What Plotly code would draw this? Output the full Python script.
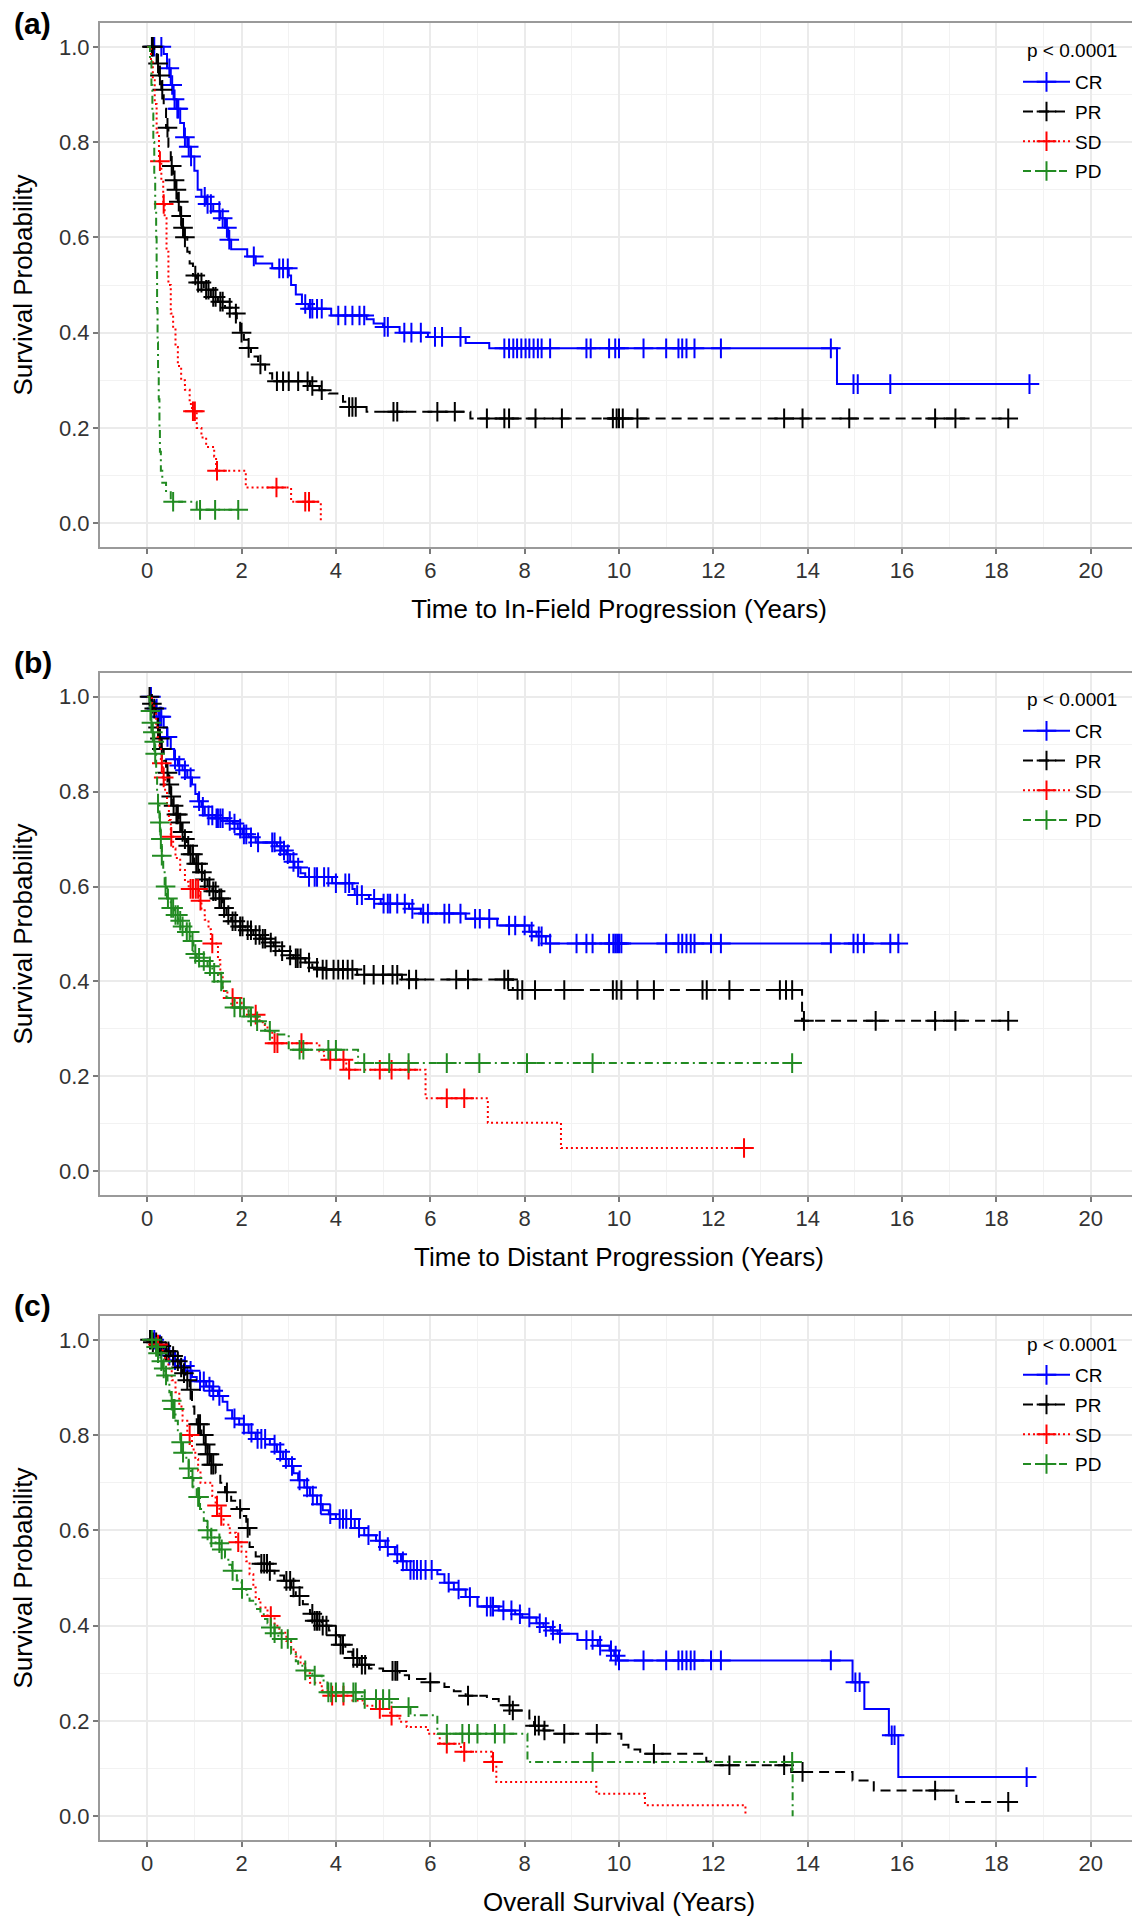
import plotly.graph_objects as go
from plotly.subplots import make_subplots

# ---------------- DATA ----------------
groups = ["CR", "PR", "SD", "PD"]
colors = {"CR": "#0000FF", "PR": "#000000", "SD": "#FF0000", "PD": "#228B22"}
dashes = {"CR": "solid", "PR": "10px,6px", "SD": "2px,3px", "PD": "8px,4px,2px,4px"}
panel_labels = ["(a)", "(b)", "(c)"]
x_titles = ["Time to In-Field Progression (Years)",
            "Time to Distant Progression (Years)",
            "Overall Survival (Years)"]
p_text = "p < 0.0001"
y_title = "Survival Probability"
x_ticks = [0, 2, 4, 6, 8, 10, 12, 14, 16, 18, 20]
y_ticks = [0.0, 0.2, 0.4, 0.6, 0.8, 1.0]

# ---- Panel (a): In-field progression ----
cr_a_t = [0, 0.35, 0.42, 0.5, 0.56, 0.62, 0.7, 0.78, 0.85, 0.92, 1.0, 1.07, 1.15, 1.25, 1.4, 1.55, 1.65, 1.72, 1.78,
          2.12, 2.3, 2.65, 3.0, 3.05, 3.15, 3.28, 3.42, 3.9, 4.65, 4.8, 5.0, 5.35, 5.95, 6.75, 7.25, 14.62]
cr_a_s = [1.0, 0.985, 0.955, 0.92, 0.89, 0.87, 0.84, 0.81, 0.79, 0.77, 0.74, 0.70, 0.685, 0.67, 0.655, 0.64, 0.62, 0.595, 0.575,
          0.56, 0.545, 0.535, 0.52, 0.50, 0.48, 0.46, 0.45, 0.436, 0.428, 0.419, 0.412, 0.40, 0.391, 0.378, 0.367, 0.292]
cr_a_c = [0.15, 0.3, 0.47, 0.53, 0.58, 0.64, 0.66, 0.8, 0.88, 0.93, 1.22, 1.28, 1.35, 1.53, 1.6, 1.69, 1.74, 2.26, 2.8, 2.88,
          2.98, 3.35, 3.45, 3.5, 3.6, 3.7, 4.05, 4.2, 4.35, 4.5, 4.6, 5.03, 5.1, 5.45, 5.6, 5.8, 6.1, 6.25, 6.64, 7.57, 7.67,
          7.76, 7.84, 7.93, 8.02, 8.1, 8.19, 8.28, 8.36, 8.54, 9.31, 9.4, 9.79, 9.92, 10.0, 10.52, 11.0, 11.26, 11.34, 11.43,
          11.6, 12.16, 14.49, 14.97, 15.06, 15.75, 18.7]

pr_a_t = [0, 0.15, 0.2, 0.25, 0.3, 0.35, 0.4, 0.45, 0.5, 0.55, 0.6, 0.65, 0.7, 0.73, 0.78, 0.85, 0.9, 0.97, 1.05, 1.2,
          1.35, 1.5, 1.65, 1.8, 1.9, 1.97, 2.05, 2.12, 2.2, 2.35, 2.5, 2.65, 3.45, 3.65, 3.85, 4.15, 4.22, 4.65, 6.85]
pr_a_s = [1.0, 0.985, 0.965, 0.94, 0.91, 0.87, 0.83, 0.79, 0.75, 0.72, 0.70, 0.675, 0.645, 0.62, 0.60, 0.57, 0.545, 0.52, 0.505, 0.49,
          0.475, 0.465, 0.452, 0.44, 0.425, 0.40, 0.385, 0.368, 0.35, 0.333, 0.315, 0.298, 0.288, 0.279, 0.272, 0.255, 0.244, 0.234, 0.22]
pr_a_c = [0.1, 0.12, 0.23, 0.27, 0.32, 0.43, 0.52, 0.58, 0.62, 0.67, 0.72, 0.76, 0.8, 1.02, 1.08, 1.15, 1.25, 1.3, 1.4, 1.45,
          1.55, 1.6, 1.75, 1.88, 2.0, 2.15, 2.4, 2.75, 2.88, 3.0, 3.2, 3.4, 3.5, 3.7, 4.28, 4.35, 4.42, 5.22, 5.3, 6.15, 6.52,
          7.2, 7.57, 7.67, 8.23, 8.79, 9.87, 9.95, 10.0, 10.08, 10.39, 13.5, 13.89, 14.88, 16.7, 17.13, 18.25]

sd_a_t = [0, 0.08, 0.12, 0.16, 0.2, 0.25, 0.3, 0.34, 0.37, 0.41, 0.45, 0.5, 0.55, 0.6, 0.65, 0.72, 0.8, 0.9, 0.95, 1.05,
          1.15, 1.25, 1.42, 1.46, 2.09, 3.05, 3.68]
sd_a_s = [1.0, 0.97, 0.93, 0.88, 0.82, 0.76, 0.72, 0.67, 0.64, 0.57, 0.50, 0.44, 0.41, 0.37, 0.33, 0.30, 0.28, 0.25, 0.235, 0.20,
          0.18, 0.16, 0.14, 0.11, 0.075, 0.045, 0.0]
sd_a_c = [0.27, 0.35, 0.97, 1.01, 1.48, 2.74, 3.35, 3.43]

pd_a_t = [0, 0.06, 0.09, 0.11, 0.13, 0.15, 0.17, 0.19, 0.2, 0.21, 0.22, 0.23, 0.245, 0.26, 0.27, 0.29, 0.32, 0.4, 0.5, 1.05]
pd_a_s = [1.0, 0.97, 0.92, 0.86, 0.80, 0.73, 0.66, 0.60, 0.53, 0.45, 0.38, 0.32, 0.26, 0.20, 0.15, 0.11, 0.085, 0.065, 0.045, 0.028]
pd_a_c = [0.55, 1.12, 1.44, 1.93]

# ---- Panel (b): Distant progression ----
cr_b_t = [0, 0.1, 0.18, 0.25, 0.35, 0.42, 0.5, 0.57, 0.65, 0.75, 0.85, 0.95, 1.02, 1.08, 1.15, 1.22, 1.45, 1.7, 1.82, 1.92,
          2.02, 2.15, 2.3, 2.75, 2.85, 2.95, 3.03, 3.12, 3.25, 3.35, 3.92, 4.35, 4.4, 4.7, 4.95, 5.55, 5.8, 6.75, 7.42, 8.1,
          8.25, 8.45]
cr_b_s = [1.0, 0.99, 0.975, 0.958, 0.935, 0.915, 0.89, 0.868, 0.855, 0.845, 0.83, 0.815, 0.795, 0.78, 0.768, 0.75, 0.744, 0.738, 0.733, 0.722,
          0.71, 0.704, 0.693, 0.685, 0.676, 0.668, 0.652, 0.64, 0.628, 0.62, 0.607, 0.595, 0.582, 0.574, 0.564, 0.553, 0.543, 0.532, 0.518, 0.505,
          0.495, 0.48]
cr_b_c = [0.08, 0.2, 0.27, 0.3, 0.43, 0.59, 0.68, 0.8, 0.92, 1.1, 1.18, 1.3, 1.38, 1.47, 1.5, 1.55, 1.6, 1.75, 1.85, 1.97,
          2.05, 2.1, 2.2, 2.35, 2.65, 2.7, 2.82, 2.9, 2.98, 3.1, 3.2, 3.43, 3.55, 3.6, 3.75, 3.84, 4.0, 4.2, 4.28, 4.45,
          4.55, 4.81, 5.01, 5.1, 5.15, 5.3, 5.46, 5.62, 5.85, 5.95, 6.3, 6.4, 6.64, 6.95, 7.05, 7.25, 7.67, 7.8, 8.0, 8.15,
          8.3, 8.36, 8.54, 9.1, 9.31, 9.44, 9.79, 9.88, 9.92, 9.96, 10.0, 10.05, 11.0, 11.26, 11.34, 11.43, 11.52, 11.6,
          11.95, 12.16, 14.49, 14.97, 15.06, 15.19, 15.75, 15.92]

pr_b_t = [0, 0.08, 0.13, 0.18, 0.22, 0.26, 0.3, 0.35, 0.4, 0.45, 0.5, 0.55, 0.6, 0.67, 0.72, 0.78, 0.84, 0.9, 1.0, 1.1,
          1.2, 1.28, 1.38, 1.48, 1.6, 1.68, 1.78, 1.92, 2.08, 2.25, 2.4, 2.55, 2.68, 2.8, 2.95, 3.1, 3.35, 3.5, 3.65, 4.45,
          5.4, 7.75, 13.88]
pr_b_s = [1.0, 0.985, 0.975, 0.955, 0.935, 0.912, 0.89, 0.865, 0.84, 0.815, 0.79, 0.77, 0.752, 0.735, 0.715, 0.70, 0.686, 0.668, 0.648, 0.63,
          0.615, 0.60, 0.59, 0.575, 0.555, 0.54, 0.527, 0.516, 0.508, 0.498, 0.49, 0.482, 0.474, 0.464, 0.455, 0.449, 0.44, 0.429, 0.425, 0.414,
          0.404, 0.382, 0.317]
pr_b_c = [0.05, 0.1, 0.15, 0.23, 0.27, 0.31, 0.43, 0.47, 0.51, 0.56, 0.62, 0.65, 0.7, 0.75, 0.8, 0.87, 0.92, 0.97, 1.04, 1.08,
          1.16, 1.22, 1.32, 1.4, 1.45, 1.53, 1.57, 1.63, 1.72, 1.81, 1.87, 1.97, 2.02, 2.13, 2.2, 2.3, 2.38, 2.45, 2.5, 2.62,
          2.72, 2.86, 3.03, 3.15, 3.19, 3.25, 3.43, 3.6, 3.72, 3.8, 3.95, 4.05, 4.15, 4.25, 4.35, 4.6, 4.8, 5.0, 5.2, 5.3,
          5.55, 5.7, 6.55, 6.8, 7.57, 7.65, 7.85, 7.95, 8.22, 8.84, 9.87, 9.95, 10.05, 10.39, 10.74, 11.77, 11.86, 12.34,
          13.41, 13.54, 13.67, 13.92, 15.44, 16.7, 17.13, 18.25]

sd_b_t = [0, 0.1, 0.15, 0.19, 0.22, 0.26, 0.29, 0.33, 0.38, 0.42, 0.46, 0.5, 0.55, 0.6, 0.7, 0.8, 0.88, 1.1, 1.15, 1.22,
          1.3, 1.35, 1.5, 1.55, 1.6, 1.7, 1.85, 2.0, 2.15, 2.35, 2.45, 2.55, 2.65, 3.65, 3.75, 4.22, 5.9, 7.22, 8.77]
sd_b_s = [1.0, 0.985, 0.97, 0.94, 0.915, 0.89, 0.86, 0.83, 0.80, 0.775, 0.74, 0.705, 0.68, 0.66, 0.635, 0.61, 0.595, 0.57, 0.55, 0.53,
          0.51, 0.48, 0.445, 0.415, 0.38, 0.365, 0.355, 0.343, 0.33, 0.318, 0.308, 0.295, 0.27, 0.253, 0.235, 0.214, 0.154, 0.102, 0.049]
sd_b_c = [0.31, 0.35, 0.51, 0.92, 0.97, 1.03, 1.08, 1.13, 1.38, 1.81, 2.3, 2.7, 2.76, 3.27, 3.88, 4.16, 4.28, 4.93, 5.18, 5.54,
          6.35, 6.72, 12.65]

pd_b_t = [0, 0.05, 0.08, 0.1, 0.13, 0.16, 0.19, 0.21, 0.23, 0.26, 0.28, 0.31, 0.34, 0.37, 0.42, 0.5, 0.58, 0.66, 0.74, 0.82,
          0.92, 0.98, 1.05, 1.15, 1.28, 1.38, 1.5, 1.6, 1.68, 1.78, 2.15, 2.28, 2.5, 2.7, 3.0, 4.47]
pd_b_s = [1.0, 0.97, 0.945, 0.925, 0.905, 0.88, 0.84, 0.80, 0.775, 0.735, 0.70, 0.665, 0.63, 0.60, 0.575, 0.555, 0.54, 0.528, 0.516, 0.504,
          0.485, 0.458, 0.45, 0.443, 0.432, 0.418, 0.40, 0.38, 0.365, 0.345, 0.326, 0.316, 0.296, 0.288, 0.256, 0.228]
pd_b_c = [0.07, 0.09, 0.12, 0.15, 0.17, 0.23, 0.27, 0.29, 0.31, 0.39, 0.44, 0.51, 0.55, 0.6, 0.65, 0.7, 0.75, 0.84, 0.9, 0.96,
          1.02, 1.1, 1.2, 1.33, 1.42, 1.57, 1.85, 1.97, 2.05, 2.2, 2.33, 2.6, 3.23, 3.31, 3.84, 4.0, 4.6, 5.13, 5.54, 6.35,
          7.04, 8.05, 9.44, 13.67]

# ---- Panel (c): Overall survival ----
cr_c_t = [0, 0.2, 0.3, 0.45, 0.55, 0.7, 0.85, 0.95, 1.05, 1.25, 1.38, 1.5, 1.6, 1.7, 1.8, 1.95, 2.15, 2.3, 2.6, 2.75,
          2.88, 3.0, 3.1, 3.2, 3.33, 3.45, 3.6, 3.72, 3.85, 4.0, 4.4, 4.6, 4.85, 5.05, 5.25, 5.38, 5.5, 6.15, 6.3, 6.5,
          6.75, 7.0, 7.45, 7.8, 7.95, 8.25, 8.4, 8.55, 8.7, 9.12, 9.55, 9.8, 9.9, 9.97, 14.95, 15.2, 15.72, 15.92]
cr_c_s = [1.0, 0.99, 0.98, 0.967, 0.957, 0.945, 0.935, 0.922, 0.913, 0.902, 0.893, 0.882, 0.87, 0.852, 0.835, 0.822, 0.805, 0.792, 0.78, 0.765,
          0.75, 0.735, 0.72, 0.705, 0.69, 0.673, 0.655, 0.642, 0.634, 0.624, 0.605, 0.59, 0.578, 0.565, 0.55, 0.535, 0.517, 0.508, 0.49, 0.476,
          0.46, 0.44, 0.432, 0.424, 0.417, 0.405, 0.397, 0.39, 0.383, 0.37, 0.358, 0.348, 0.337, 0.327, 0.281, 0.225, 0.17, 0.082]
cr_c_c = [0.15, 0.27, 0.47, 0.59, 0.8, 0.92, 1.12, 1.2, 1.32, 1.4, 1.53, 1.85, 2.05, 2.21, 2.34, 2.42, 2.5, 2.7, 2.82, 2.94,
          3.07, 3.23, 3.39, 3.51, 3.68, 3.88, 4.08, 4.15, 4.22, 4.32, 4.49, 4.69, 4.93, 5.1, 5.3, 5.42, 5.58, 5.65, 5.72, 5.8,
          5.9, 6.03, 6.39, 6.6, 6.84, 7.2, 7.28, 7.33, 7.55, 7.72, 7.9, 8.1, 8.32, 8.45, 8.6, 8.75, 9.31, 9.44, 9.6, 9.83,
          9.93, 10.0, 10.52, 11.0, 11.26, 11.34, 11.43, 11.52, 11.6, 11.95, 12.16, 14.49, 15.01, 15.1, 15.78, 15.84, 18.64]

pr_c_t = [0, 0.1, 0.2, 0.35, 0.5, 0.62, 0.7, 0.75, 0.82, 0.9, 0.95, 1.0, 1.05, 1.15, 1.22, 1.28, 1.35, 1.45, 1.55, 1.65,
          1.78, 1.9, 2.0, 2.1, 2.17, 2.3, 2.42, 2.55, 2.7, 2.9, 3.05, 3.15, 3.3, 3.45, 3.55, 3.7, 3.85, 4.0, 4.07, 4.2,
          4.35, 4.5, 4.7, 5.0, 5.35, 5.55, 5.9, 6.3, 6.5, 6.75, 7.2, 7.45, 7.7, 8.1, 8.2, 8.4, 8.6, 10.05, 10.2, 10.45,
          11.85, 11.95, 13.65, 14.95, 15.4, 17.15]
pr_c_s = [1.0, 0.995, 0.987, 0.976, 0.966, 0.955, 0.942, 0.93, 0.915, 0.895, 0.86, 0.836, 0.823, 0.80, 0.78, 0.76, 0.738, 0.72, 0.70, 0.68,
          0.662, 0.645, 0.63, 0.605, 0.565, 0.545, 0.53, 0.515, 0.505, 0.494, 0.48, 0.462, 0.445, 0.425, 0.41, 0.40, 0.39, 0.38, 0.36, 0.345,
          0.332, 0.318, 0.31, 0.305, 0.296, 0.288, 0.281, 0.271, 0.262, 0.253, 0.246, 0.233, 0.222, 0.205, 0.19, 0.18, 0.173, 0.15, 0.14, 0.131,
          0.115, 0.107, 0.093, 0.075, 0.054, 0.03]
pr_c_c = [0.06, 0.12, 0.19, 0.25, 0.3, 0.4, 0.45, 0.55, 0.65, 0.72, 0.78, 0.85, 0.92, 1.08, 1.12, 1.2, 1.24, 1.28, 1.32, 1.36,
          1.4, 1.69, 1.97, 2.13, 2.42, 2.48, 2.54, 2.6, 2.95, 3.03, 3.1, 3.23, 3.5, 3.55, 3.6, 3.65, 3.72, 3.8, 4.0, 4.1,
          4.15, 4.37, 4.45, 4.55, 4.62, 5.2, 5.26, 5.3, 6.0, 6.8, 7.68, 7.75, 8.22, 8.3, 8.42, 8.84, 9.53, 10.74, 12.34,
          13.5, 13.89, 16.7, 18.25]

sd_c_t = [0, 0.2, 0.3, 0.38, 0.45, 0.52, 0.6, 0.68, 0.75, 0.85, 0.95, 1.02, 1.08, 1.13, 1.38, 1.45, 1.53, 1.62, 1.75, 1.88,
          2.0, 2.1, 2.17, 2.25, 2.3, 2.4, 2.55, 2.7, 2.8, 2.95, 3.05, 3.15, 3.25, 3.35, 3.45, 3.7, 3.85, 4.35, 4.6, 4.85,
          5.15, 5.35, 5.5, 5.95, 6.2, 6.65, 7.3, 7.4, 9.52, 10.55, 12.68]
sd_c_s = [1.0, 0.99, 0.978, 0.96, 0.94, 0.915, 0.89, 0.86, 0.83, 0.80, 0.77, 0.75, 0.725, 0.70, 0.672, 0.652, 0.63, 0.612, 0.595, 0.575,
          0.555, 0.535, 0.508, 0.48, 0.456, 0.438, 0.42, 0.40, 0.385, 0.368, 0.35, 0.335, 0.32, 0.30, 0.28, 0.264, 0.253, 0.243, 0.232, 0.225,
          0.211, 0.198, 0.187, 0.173, 0.152, 0.135, 0.114, 0.072, 0.047, 0.023, 0.0]
sd_c_c = [0.23, 0.9, 1.48, 1.57, 1.93, 2.62, 3.92, 4.16, 4.93, 5.18, 6.35, 6.72, 7.33]

pd_c_t = [0, 0.15, 0.2, 0.28, 0.32, 0.38, 0.43, 0.47, 0.5, 0.55, 0.6, 0.65, 0.7, 0.75, 0.83, 0.88, 0.93, 0.98, 1.05, 1.12,
          1.2, 1.27, 1.35, 1.45, 1.55, 1.65, 1.72, 1.8, 1.9, 2.0, 2.1, 2.17, 2.3, 2.4, 2.47, 2.55, 2.62, 2.7, 2.78, 3.05,
          3.15, 3.2, 3.35, 3.5, 3.7, 3.82, 4.55, 5.18, 5.58, 6.15, 8.06, 13.68]
pd_c_s = [1.0, 0.985, 0.972, 0.955, 0.94, 0.925, 0.91, 0.89, 0.872, 0.855, 0.83, 0.81, 0.785, 0.763, 0.745, 0.73, 0.71, 0.69, 0.67, 0.645,
          0.62, 0.60, 0.585, 0.573, 0.56, 0.543, 0.528, 0.515, 0.495, 0.477, 0.465, 0.452, 0.435, 0.424, 0.414, 0.405, 0.396, 0.384, 0.372, 0.341,
          0.325, 0.316, 0.306, 0.295, 0.285, 0.26, 0.246, 0.229, 0.212, 0.173, 0.114, 0.0]
pd_c_c = [0.1, 0.19, 0.23, 0.3, 0.35, 0.4, 0.52, 0.55, 0.58, 0.72, 0.76, 0.88, 0.96, 1.08, 1.1, 1.28, 1.36, 1.53, 1.58, 1.81,
          2.01, 2.62, 2.7, 2.85, 2.98, 3.35, 3.55, 3.84, 3.9, 4.0, 4.16, 4.37, 4.42, 4.61, 4.85, 5.0, 5.13, 5.54, 6.35, 6.68,
          6.82, 7.0, 7.37, 7.57, 9.44, 13.67]

panels = [
    {"CR": (cr_a_t, cr_a_s, cr_a_c), "PR": (pr_a_t, pr_a_s, pr_a_c),
     "SD": (sd_a_t, sd_a_s, sd_a_c), "PD": (pd_a_t, pd_a_s, pd_a_c)},
    {"CR": (cr_b_t, cr_b_s, cr_b_c), "PR": (pr_b_t, pr_b_s, pr_b_c),
     "SD": (sd_b_t, sd_b_s, sd_b_c), "PD": (pd_b_t, pd_b_s, pd_b_c)},
    {"CR": (cr_c_t, cr_c_s, cr_c_c), "PR": (pr_c_t, pr_c_s, pr_c_c),
     "SD": (sd_c_t, sd_c_s, sd_c_c), "PD": (pd_c_t, pd_c_s, pd_c_c)},
]


def level_at(st, ss, t):
    """Value of the Kaplan-Meier step function at time t."""
    v = ss[0]
    for a, b in zip(st, ss):
        if a <= t:
            v = b
    return v


# ---------------- LAYOUT GEOMETRY ----------------
W, H = 1140, 1920
panel_px = [(15, 539), (665, 1187), (1308, 1832)]  # top, bottom of each panel (page px)
ML, MR = 92, 10
MT = panel_px[0][0]
MB = H - panel_px[2][1]
PH = H - MT - MB
PW = W - ML - MR
label_y_px = [15, 655, 1297]
legend_top_px = [55, 704, 1348]
ptext_y_px = [43, 692, 1336]


def py(px):
    return (H - MB - px) / PH


def pxx(px):
    return (px - ML) / PW


FONT = "Liberation Sans, Arial, Helvetica, sans-serif"

fig = make_subplots(rows=3, cols=1)

for i, pdata in enumerate(panels):
    row = i + 1
    lg = "legend" if i == 0 else f"legend{i + 1}"
    for g in groups:
        st, ss, cc = pdata[g]
        end_t = max(st[-1], max(cc))
        lx = list(st) + [end_t]
        ly = list(ss) + [ss[-1]]
        fig.add_trace(go.Scatter(
            x=lx, y=ly, mode="lines", line_shape="hv",
            line=dict(color=colors[g], width=2, dash=dashes[g]),
            showlegend=False, hoverinfo="skip"), row=row, col=1)
        fig.add_trace(go.Scatter(
            x=cc, y=[level_at(st, ss, t) for t in cc], mode="markers",
            marker=dict(symbol="cross-thin", size=14, line=dict(width=2, color=colors[g]), color=colors[g]),
            showlegend=False), row=row, col=1)
    for g in groups:
        fig.add_trace(go.Scatter(
            x=[None], y=[None], mode="lines+markers", name=g,
            line=dict(color=colors[g], width=2, dash=dashes[g]),
            marker=dict(symbol="cross-thin", size=14, line=dict(width=2, color=colors[g]), color=colors[g]),
            legend=lg, legendgroup=f"{g}{i}", showlegend=True), row=row, col=1)

axis_common = dict(
    showline=True, linecolor="#9A9A9A", linewidth=2, mirror=True,
    ticks="outside", ticklen=5, tickwidth=2, tickcolor="#7A7A7A",
    showgrid=True, gridcolor="#EBEBEB", gridwidth=1.5,
    zeroline=False, automargin=False,
    tickfont=dict(family=FONT, size=22, color="#333333"),
)

layout_updates = {}
for i in range(3):
    top, bot = panel_px[i]
    xa = "xaxis" if i == 0 else f"xaxis{i + 1}"
    ya = "yaxis" if i == 0 else f"yaxis{i + 1}"
    layout_updates[xa] = dict(
        range=[-1, 21], tickvals=x_ticks,
        minor=dict(dtick=1, tick0=0, showgrid=True, gridcolor="#F2F2F2", gridwidth=1, ticks=""),
        title=dict(text=x_titles[i], font=dict(family=FONT, size=26, color="#000000"), standoff=17),
        ticklabelstandoff=-2,
        **axis_common)
    layout_updates[ya] = dict(
        range=[-0.05, 1.05], tickvals=y_ticks, tickformat=".1f",
        domain=[py(bot), py(top)],
        minor=dict(dtick=0.1, tick0=0, showgrid=True, gridcolor="#F2F2F2", gridwidth=1, ticks=""),
        title=dict(text=y_title, font=dict(family=FONT, size=26, color="#000000"), standoff=22),
        ticklabelstandoff=-1,
        **axis_common)
    fig.add_annotation(text=f"<b>{panel_labels[i]}</b>", xref="paper", yref="paper",
                       x=pxx(4), y=py(label_y_px[i]), xanchor="left", yanchor="middle",
                       showarrow=False, font=dict(family=FONT, size=30, color="#000000"))
    fig.add_annotation(text=p_text, xref="paper", yref="paper",
                       x=pxx(1017), y=py(ptext_y_px[i]), xanchor="left", yanchor="middle",
                       showarrow=False, font=dict(family=FONT, size=19, color="#000000"))
    lg = "legend" if i == 0 else f"legend{i + 1}"
    layout_updates[lg] = dict(
        x=pxx(1010), xanchor="left", y=py(legend_top_px[i]), yanchor="top",
        font=dict(family=FONT, size=19, color="#000000"),
        bgcolor="rgba(0,0,0,0)", borderwidth=0,
        traceorder="grouped", tracegroupgap=2, itemwidth=47)

fig.update_layout(
    width=W, height=H,
    margin=dict(l=ML, r=MR, t=MT, b=MB, autoexpand=False),
    paper_bgcolor="white", plot_bgcolor="white",
    font=dict(family=FONT),
    **layout_updates,
)

fig.write_html("out.html")
